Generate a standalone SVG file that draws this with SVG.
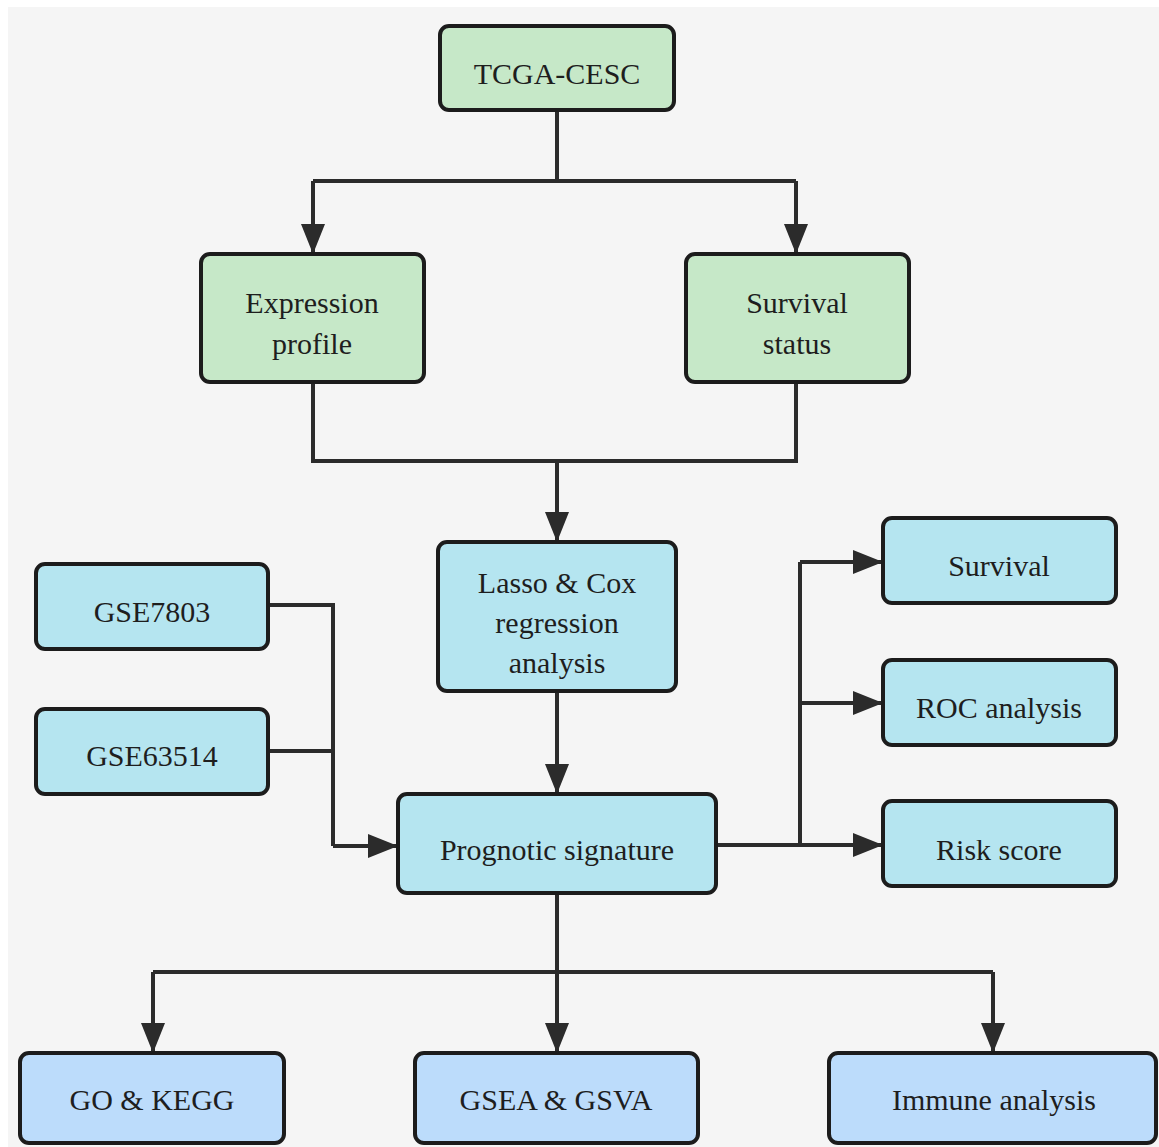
<svg xmlns="http://www.w3.org/2000/svg" width="1159" height="1147" viewBox="0 0 1159 1147">
<style>
.n rect{stroke:#1c1c1c;stroke-width:4}
.g rect{fill:#c6e8c8}
.b rect{fill:#b5e5f0}
.l rect{fill:#bcdcfb}
.n text{font-family:Liberation Serif, DejaVu Serif, serif;font-size:30px;fill:#1e1e1e;text-anchor:middle}
#edges path{fill:none;stroke:#2b2b2b;stroke-width:4}
</style>
<defs>
<marker id="ah" viewBox="0 0 30 24" refX="30" refY="12" markerWidth="30" markerHeight="24" markerUnits="userSpaceOnUse" orient="auto">
<path d="M0,0 L30,12 L0,24 Z" fill="#2b2b2b"/>
</marker>
</defs>
<rect x="8" y="7" width="1151" height="1140" fill="#f5f5f5"/>
<g id="edges">
<path d="M557,110 V181 M313,181 H796"/>
<path d="M313,181 V254" marker-end="url(#ah)"/>
<path d="M796,181 V254" marker-end="url(#ah)"/>
<path d="M313,382 V461 H796 V382"/>
<path d="M557,461 V542" marker-end="url(#ah)"/>
<path d="M557,691 V794" marker-end="url(#ah)"/>
<path d="M268,605 H333 V846 M268,751 H333"/>
<path d="M333,846 H398" marker-end="url(#ah)"/>
<path d="M716,845 H883" marker-end="url(#ah)"/>
<path d="M800,845 V562"/>
<path d="M800,562 H883" marker-end="url(#ah)"/>
<path d="M800,703 H883" marker-end="url(#ah)"/>
<path d="M557,893 V972 M153,972 H993"/>
<path d="M557,972 V1053" marker-end="url(#ah)"/>
<path d="M153,972 V1053" marker-end="url(#ah)"/>
<path d="M993,972 V1053" marker-end="url(#ah)"/>
</g>
<g id="tcga" class="n g"><rect x="440" y="26" width="234" height="84" rx="9"/><text x="557" y="84">TCGA-CESC</text></g>
<g id="expr" class="n g"><rect x="201" y="254" width="223" height="128" rx="9"/><text x="312" y="313">Expression</text><text x="312" y="354">profile</text></g>
<g id="surv" class="n g"><rect x="686" y="254" width="223" height="128" rx="9"/><text x="797" y="313">Survival</text><text x="797" y="354">status</text></g>
<g id="lasso" class="n b"><rect x="438" y="542" width="238" height="149" rx="9"/><text x="557" y="593">Lasso &amp; Cox</text><text x="557" y="633">regression</text><text x="557" y="673">analysis</text></g>
<g id="gse7803" class="n b"><rect x="36" y="564" width="232" height="85" rx="9"/><text x="152" y="622">GSE7803</text></g>
<g id="gse63514" class="n b"><rect x="36" y="709" width="232" height="85" rx="9"/><text x="152" y="766">GSE63514</text></g>
<g id="prog" class="n b"><rect x="398" y="794" width="318" height="99" rx="9"/><text x="557" y="860">Prognotic signature</text></g>
<g id="survival" class="n b"><rect x="883" y="518" width="233" height="85" rx="9"/><text x="999" y="576">Survival</text></g>
<g id="roc" class="n b"><rect x="883" y="660" width="233" height="85" rx="9"/><text x="999" y="718">ROC analysis</text></g>
<g id="risk" class="n b"><rect x="883" y="801" width="233" height="85" rx="9"/><text x="999" y="860">Risk score</text></g>
<g id="gokegg" class="n l"><rect x="20" y="1053" width="264" height="90" rx="9"/><text x="152" y="1110">GO &amp; KEGG</text></g>
<g id="gsea" class="n l"><rect x="415" y="1053" width="283" height="90" rx="9"/><text x="556" y="1110">GSEA &amp; GSVA</text></g>
<g id="immune" class="n l"><rect x="829" y="1053" width="327" height="90" rx="9"/><text x="994" y="1110">Immune analysis</text></g>
</svg>
